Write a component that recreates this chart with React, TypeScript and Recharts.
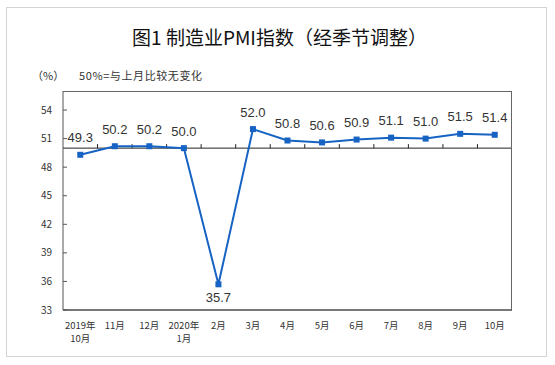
import React from 'react';
import { LineChart, Line, XAxis, YAxis, ReferenceLine, LabelList } from 'recharts';

const months = ['2019年\n10月', '11月', '12月', '2020年\n1月', '2月', '3月', '4月', '5月', '6月', '7月', '8月', '9月', '10月'];
const pmi = [49.3, 50.2, 50.2, 50.0, 35.7, 52.0, 50.8, 50.6, 50.9, 51.1, 51.0, 51.5, 51.4];
const yTicks = [33, 36, 39, 42, 45, 48, 51, 54];
const Y_MIN = 33;
const Y_MAX = 56;

const data = months.map((month, i) => ({ month, pmi: pmi[i] }));

const BLUE = '#1763c3';
const CJK = '"Noto Sans CJK SC", "Noto Sans", sans-serif';

const W = 555;
const H = 365;
const M = { top: 91, right: 43, bottom: 0, left: 0 };
const Y_AXIS_W = 63;
const X_AXIS_H = 55;

const SquareDot = (props: any) => {
  const { cx, cy } = props;
  if (cx == null || cy == null) return null;
  return <rect x={cx - 3} y={cy - 3} width={6} height={6} fill={BLUE} />;
};

const YTick = (props: any) => {
  const { x, y, payload } = props;
  return (
    <g>
      <text x={x - 11} y={y} dy={3.5} textAnchor="end" fontSize={10} fill="#333" fontFamily={CJK}>
        {payload.value}
      </text>
      <line x1={x} y1={y} x2={x + 4} y2={y} stroke="#555" />
    </g>
  );
};

const XTick = (props: any) => {
  const { x, y, payload } = props;
  const lines = String(payload.value).split('\n');
  return (
    <text x={x} y={y} textAnchor="middle" fontSize={9.5} fill="#333" fontFamily={CJK}>
      {lines.map((l, i) => (
        <tspan key={i} x={x} dy={i === 0 ? 18.5 : 13.5}>
          {l}
        </tspan>
      ))}
    </text>
  );
};

// the 50 line acts as the category axis: draw it with upward ticks at band edges
const FiftyLine = (props: any) => {
  const { x1, y1, x2 } = props;
  const band = (x2 - x1) / months.length;
  return (
    <g>
      <line x1={x1} y1={y1} x2={x2} y2={y1} stroke="#222" strokeWidth={1} />
      {months.slice(1).map((_, i) => {
        const tx = x1 + band * (i + 1);
        return <line key={i} x1={tx} y1={y1} x2={tx} y2={y1 - 4} stroke="#222" />;
      })}
    </g>
  );
};

const ValueLabel = (props: any) => {
  const { x, y, value } = props;
  const below = value < 40;
  return (
    <text
      x={x}
      y={below ? y + 17.5 : y - 12.5}
      textAnchor="middle"
      fontSize={13}
      fill="#333"
      fontFamily='"Liberation Sans", Arial, sans-serif'
    >
      {Number(value).toFixed(1)}
    </text>
  );
};

export default function App() {
  const plotW = W - M.left - M.right - Y_AXIS_W;
  const plotH = H - M.top - M.bottom - X_AXIS_H;
  return (
    <div style={{ position: 'absolute', left: 0, top: 0, width: W, height: H, background: '#fff' }}>
      <div
        style={{
          position: 'absolute',
          left: 6,
          top: 7,
          width: 539,
          height: 348,
          border: '1px solid #d4d4d4',
        }}
      />
      <div
        style={{
          position: 'absolute',
          left: 0,
          top: 27,
          width: 559,
          textAlign: 'center',
          fontSize: 19,
          lineHeight: '19px',
          color: '#111',
          fontFamily: CJK,
        }}
      >
        图1 制造业PMI指数（经季节调整）
      </div>
      <div
        style={{
          position: 'absolute',
          left: 32,
          top: 69,
          fontSize: 11,
          lineHeight: '12px',
          color: '#333',
          fontFamily: CJK,
          whiteSpace: 'pre',
        }}
      >
        （%）
      </div>
      <div
        style={{
          position: 'absolute',
          left: 79,
          top: 69,
          fontSize: 11,
          lineHeight: '12px',
          letterSpacing: 0.6,
          color: '#333',
          fontFamily: CJK,
          whiteSpace: 'pre',
        }}
      >
        50%=与上月比较无变化
      </div>
      <div style={{ position: 'absolute', left: 0, top: 0 }}>
        <LineChart width={W} height={H} data={data} margin={M}>
          <XAxis
            dataKey="month"
            scale="band"
            interval={0}
            tick={<XTick />}
            tickLine={false}
            tickSize={0}
            tickMargin={0}
            axisLine={{ stroke: '#777', strokeWidth: 2 }}
            height={X_AXIS_H}
          />
          <YAxis
            domain={[Y_MIN, Y_MAX]}
            ticks={yTicks}
            interval={0}
            width={Y_AXIS_W}
            tick={<YTick />}
            tickLine={false}
            tickSize={0}
            tickMargin={0}
            axisLine={{ stroke: '#555' }}
            allowDataOverflow
          />
          <ReferenceLine y={50} shape={FiftyLine} />
          <Line
            type="linear"
            dataKey="pmi"
            stroke={BLUE}
            strokeWidth={2}
            dot={<SquareDot />}
            activeDot={false}
            isAnimationActive={false}
          >
            <LabelList dataKey="pmi" content={<ValueLabel />} />
          </Line>
        </LineChart>
      </div>
      {/* plot frame: top and right edges */}
      <div
        style={{
          position: 'absolute',
          left: M.left + Y_AXIS_W,
          top: M.top,
          width: plotW - 1,
          height: plotH,
          borderTop: '1px solid #666',
          borderRight: '1px solid #666',
          pointerEvents: 'none',
        }}
      />
    </div>
  );
}
